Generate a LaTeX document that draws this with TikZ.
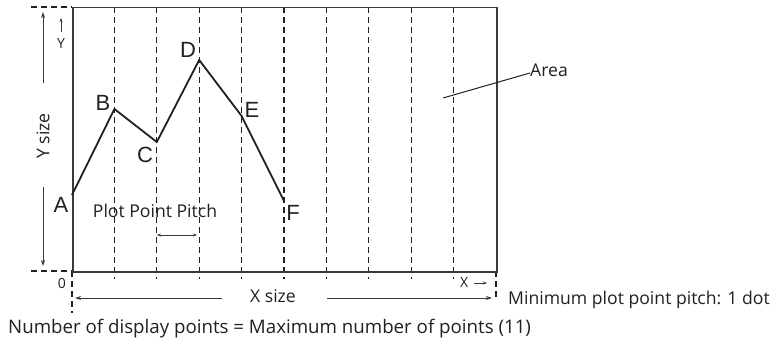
\documentclass[tikz,border=0pt]{standalone}
\usepackage{fontspec}
\setmainfont{Open Sans}
\newfontfamily\ptfont{Liberation Sans}
\usetikzlibrary{arrows.meta}
\definecolor{ink}{HTML}{231F20}
\definecolor{frame}{HTML}{3A3A3A}
\begin{document}
\begin{tikzpicture}[x=1pt,y=-1pt,
  txt/.style={inner sep=0pt,font=\fontsize{17.6}{19}\selectfont,text=ink},
  small/.style={inner sep=0pt,font=\fontsize{14}{15}\selectfont,text=ink},
  ptlbl/.style={inner sep=0pt,font=\ptfont\fontsize{22}{23}\selectfont,text=ink},
  grid/.style={draw=ink,line width=1.1pt,dash pattern=on 6pt off 4pt},
  dim/.style={draw=frame,line width=1pt,-{Stealth[length=6pt,width=4pt]}},
  sdim/.style={draw=frame,line width=0.8pt},
  curve/.style={draw=ink,line width=1.8pt,line join=miter},
]
\useasboundingbox (0,0) rectangle (773,350);
% grid lines
\foreach \i in {1,...,9}{
  \draw[grid] ({72+42.4*\i},7) -- ({72+42.4*\i},279);
}
% extension dashed lines
\draw[grid] (31,7) -- (72,7);
\draw[grid] (31,271) -- (72,271);
\draw[grid] (72,271) -- (72,313);
\draw[grid] (496,271) -- (496,299);
% frame
\node[draw=frame,line width=1.5pt,minimum width=424pt,minimum height=264pt,inner sep=0pt,anchor=north west] (area) at (72,7) {};
% polyline
\coordinate (A) at (72,195);
\coordinate (B) at (114.4,109);
\coordinate (C) at (156.8,142);
\coordinate (D) at (199.2,60);
\coordinate (E) at (241.6,116);
\coordinate (F) at (284,201);
\draw[curve] (A) -- (B) -- (C) -- (D) -- (E) -- (F);
% point labels
\node[ptlbl] (lA) at (61,205) {A};
\node[ptlbl] (lB) at (103,103) {B};
\node[ptlbl] (lC) at (145,155) {C};
\node[ptlbl] (lD) at (188,50) {D};
\node[ptlbl] (lE) at (252,110) {E};
\node[ptlbl] (lF) at (293,213) {F};
% Y size
\node[txt,rotate=90] (ysize) at (43,136) {Y size};
\coordinate (yt1) at (43,83);
\coordinate (yt2) at (43,12);
\coordinate (yb1) at (43,187);
\coordinate (yb2) at (43,266);
\draw[dim] (yt1) -- (yt2);
\draw[dim] (yb1) -- (yb2);
% small Y
\coordinate (sy1) at (61,32);
\coordinate (sy2) at (61,18);
\draw[sdim,-{Stealth[length=4pt,width=3pt]}] (sy1) -- (sy2);
\node[small] (ylbl) at (61,44) {Y};
% origin
\node[small] (zero) at (62,283) {0};
% X size
\node[txt] (xsize) at (273,296) {X size};
\coordinate (xl1) at (222,298);
\coordinate (xl2) at (75,298);
\coordinate (xr1) at (327,298);
\coordinate (xr2) at (492,298);
\draw[dim] (xl1) -- (xl2);
\draw[dim] (xr1) -- (xr2);
% small X
\node[small,anchor=west] (xlbl) at (460,283) {X};
\coordinate (sx1) at (474,283);
\coordinate (sx2) at (487,283);
\draw[sdim,-{Stealth[length=4pt,width=3pt]}] (sx1) -- (sx2);
% pitch
\node[txt] (pitch) at (155,211) {Plot Point Pitch};
\coordinate (p1) at (157,235);
\coordinate (p2) at (197,235);
\draw[sdim,{Stealth[length=4pt,width=3pt]}-{Stealth[length=4pt,width=3pt]}] (p1) -- (p2);
% area label
\node[txt,anchor=west] (arealbl) at (530,70) {Area};
\coordinate (ar1) at (443,98);
\draw[draw=ink,line width=1pt] (ar1) -- ([yshift=-3pt]arealbl.west);
% notes
\node[txt,anchor=west] (minp) at (508,300) {Minimum plot point pitch: 1 dot};
\node[txt,anchor=west,font=\fontsize{18.7}{20}\selectfont] (num) at (8,329) {Number of display points = Maximum number of points (11)};
\end{tikzpicture}
\end{document}
